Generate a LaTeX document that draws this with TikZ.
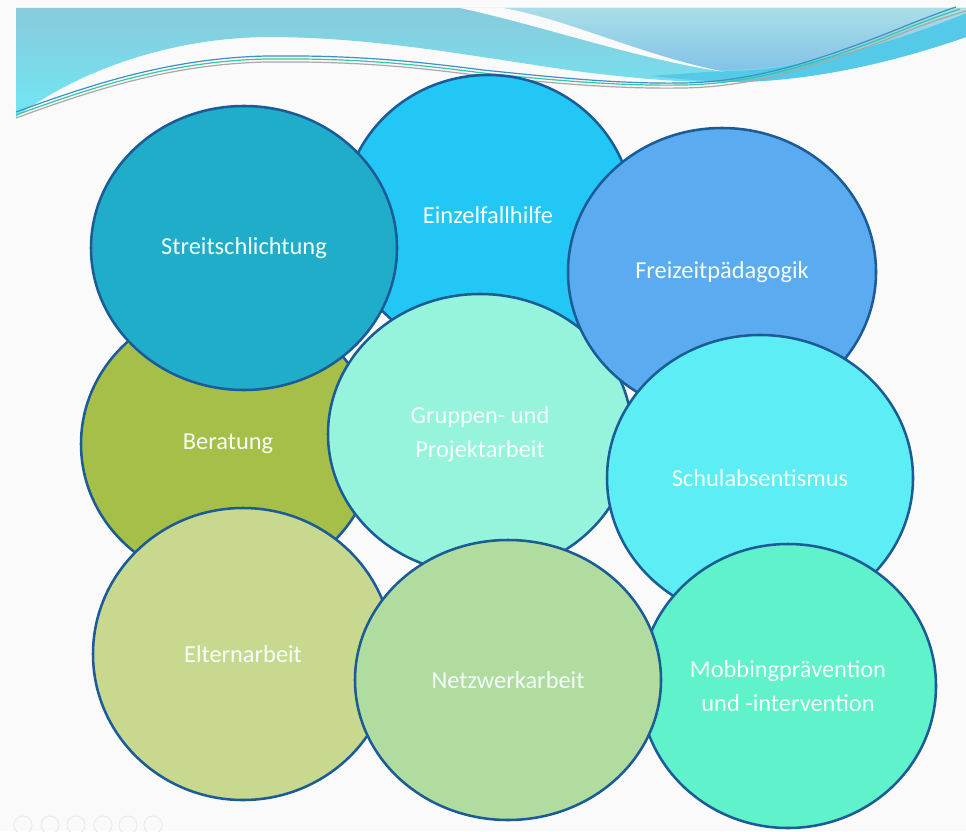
\documentclass[tikz,border=0pt]{standalone}
\usepackage{fontspec}
\setmainfont{Carlito}
\usetikzlibrary{shapes.geometric}
\definecolor{outl}{HTML}{1B5C97}
\definecolor{txt}{HTML}{F4FFFA}
\definecolor{bgc}{HTML}{FAFAFA}
\definecolor{cEinzel}{HTML}{22C7F5}
\definecolor{cStreit}{HTML}{20ADC9}
\definecolor{cFrei}{HTML}{5AABF0}
\definecolor{cBer}{HTML}{A6BF48}
\definecolor{cGrup}{HTML}{96F4DC}
\definecolor{cSchul}{HTML}{5DEEF5}
\definecolor{cEltern}{HTML}{C8D98F}
\definecolor{cNetz}{HTML}{B0DCA0}
\definecolor{cMob}{HTML}{60F2CA}
\definecolor{bandTop}{HTML}{88CBDC}
\definecolor{bandBot}{HTML}{70E6F3}
\definecolor{lightTop}{HTML}{AADEE7}
\definecolor{lightBot}{HTML}{82C2E8}
\definecolor{cyanBand}{HTML}{55CAE8}
\definecolor{lnBlue}{HTML}{3E8FC8}
\definecolor{lnGreen}{HTML}{35C8A0}
\definecolor{lnGray}{HTML}{A8A8A8}
\tikzset{
  bubble/.style={ellipse, draw=outl, line width=1.9pt, inner sep=0pt,
    text=txt, font=\fontsize{18.3}{26}\selectfont, align=center},
  wline/.style={line width=0.9pt}
}
\begin{document}
\begin{tikzpicture}[x=0.75pt,y=-0.75pt]
\useasboundingbox (0,0) rectangle (966,831);
\fill[bgc] (0,0) rectangle (966,831);
% banner
\shade[top color=bandTop, bottom color=bandBot]
  (16,117) .. controls (80,70) and (170,38) .. (267,37)
  .. controls (380,37) and (480,58) .. (583,72)
  .. controls (650,80) and (690,83) .. (740,82)
  .. controls (820,80) and (900,60) .. (966,37)
  -- (966,8) -- (16,8) -- cycle;
\fill[cyanBand] (725,71) .. controls (800,72) and (900,40) .. (966,13)
  -- (966,37) .. controls (900,60) and (820,80) .. (740,82)
  .. controls (710,82) and (680,79) .. (650,76)
  .. controls (680,74) and (705,72) .. (725,71) -- cycle;
\shade[top color=lightTop, bottom color=lightBot]
  (503,8) -- (966,8) -- (966,13) .. controls (900,40) and (800,72) .. (716,70)
  .. controls (640,55) and (570,20) .. (503,8) -- cycle;
\fill[bgc] (460,8) .. controls (540,25) and (640,60) .. (725,72)
  .. controls (640,55) and (570,20) .. (503,8) -- cycle;
\draw[wline, lnBlue] (16,112) .. controls (90,85) and (170,58) .. (267,56)
  .. controls (360,55) and (420,62) .. (483,70)
  .. controls (560,78) and (620,84) .. (683,83)
  .. controls (760,82) and (830,55) .. (883,35)
  .. controls (910,24) and (935,14) .. (956,7);
\draw[wline, lnGreen] (16,115) .. controls (90,88) and (170,61) .. (267,59)
  .. controls (360,58) and (420,65) .. (483,73)
  .. controls (560,81) and (620,86) .. (683,85)
  .. controls (760,84) and (830,58) .. (883,38)
  .. controls (910,27) and (935,17) .. (960,9);
\draw[wline, lnGray] (16,118) .. controls (90,91) and (170,64) .. (267,62)
  .. controls (360,61) and (420,68) .. (483,76)
  .. controls (560,84) and (620,89) .. (683,88)
  .. controls (760,87) and (830,61) .. (883,41)
  .. controls (910,30) and (935,20) .. (966,11);
% player icons (faint)
\foreach \i/\x in {1/23,2/50,3/76,4/103,5/128,6/153}
  \draw[black!8, line width=0.8pt] (\x,825) circle[radius=9];
% bubbles
\node[bubble, fill=cEinzel, minimum width=290*0.75pt, minimum height=280*0.75pt]
  (einzel) at (488,215) {Einzelfallhilfe};
\node[bubble, fill=cBer, minimum width=294*0.75pt, minimum height=280*0.75pt]
  (ber) at (228,444) {Beratung};
\node[bubble, fill=cStreit, minimum width=306*0.75pt, minimum height=284*0.75pt]
  (streit) at (244,248) {Streitschlichtung};
\node[bubble, fill=cGrup, minimum width=304*0.75pt, minimum height=280*0.75pt]
  (grup) at (480,434) {Gruppen- und\\Projektarbeit};
\node[bubble, fill=cFrei, minimum width=308*0.75pt, minimum height=288*0.75pt]
  (frei) at (722,272) {Freizeitpädagogik};
\node[bubble, fill=cSchul, minimum width=306*0.75pt, minimum height=286*0.75pt]
  (schul) at (760,478) {Schulabsentismus};
\node[bubble, fill=cMob, minimum width=296*0.75pt, minimum height=284*0.75pt]
  (mob) at (788,686) {Mobbingprävention\\und -intervention};
\node[bubble, fill=cEltern, minimum width=300*0.75pt, minimum height=292*0.75pt]
  (eltern) at (243,654) {Elternarbeit};
\node[bubble, fill=cNetz, minimum width=306*0.75pt, minimum height=280*0.75pt]
  (netz) at (508,680) {Netzwerkarbeit};
\end{tikzpicture}
\end{document}
